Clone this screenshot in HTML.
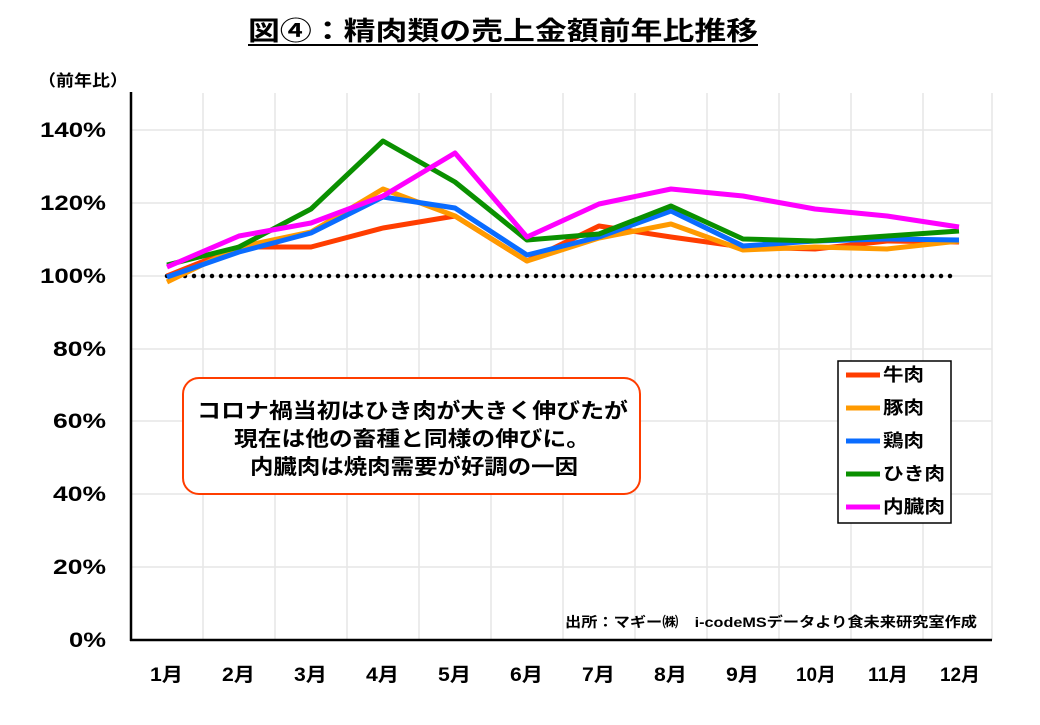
<!DOCTYPE html>
<html><head><meta charset="utf-8"><style>
body{margin:0;background:#fff;width:1040px;height:720px;overflow:hidden}
svg text{font-family:"Liberation Sans","Noto Sans CJK JP",sans-serif;font-weight:bold}
</style></head><body>
<svg width="1040" height="720" xmlns="http://www.w3.org/2000/svg">
<text x="248" y="40" font-size="26" textLength="510" lengthAdjust="spacingAndGlyphs" fill="#000">図④：精肉類の売上金額前年比推移</text>
<line x1="248" y1="45" x2="758" y2="45" stroke="#000" stroke-width="2"/>
<text x="38" y="86" font-size="16" textLength="90" lengthAdjust="spacingAndGlyphs">（前年比）</text>
<g stroke="#e6e6e6" stroke-width="1.5">
<line x1="131" y1="130" x2="992" y2="130"/><line x1="131" y1="203" x2="992" y2="203"/><line x1="131" y1="276" x2="992" y2="276"/><line x1="131" y1="349" x2="992" y2="349"/><line x1="131" y1="421" x2="992" y2="421"/><line x1="131" y1="494" x2="992" y2="494"/><line x1="131" y1="567" x2="992" y2="567"/>
<line x1="203" y1="93" x2="203" y2="640"/><line x1="275" y1="93" x2="275" y2="640"/><line x1="347" y1="93" x2="347" y2="640"/><line x1="419" y1="93" x2="419" y2="640"/><line x1="491" y1="93" x2="491" y2="640"/><line x1="563" y1="93" x2="563" y2="640"/><line x1="635" y1="93" x2="635" y2="640"/><line x1="707" y1="93" x2="707" y2="640"/><line x1="779" y1="93" x2="779" y2="640"/><line x1="851" y1="93" x2="851" y2="640"/><line x1="923" y1="93" x2="923" y2="640"/><line x1="992" y1="93" x2="992" y2="640"/>
</g>
<line x1="131" y1="92" x2="131" y2="641" stroke="#000" stroke-width="2.5"/>
<line x1="130" y1="640" x2="992" y2="640" stroke="#000" stroke-width="2.5"/>
<g font-size="21" fill="#000">
<text x="40" y="137" textLength="66" lengthAdjust="spacingAndGlyphs">140%</text><text x="40" y="210" textLength="66" lengthAdjust="spacingAndGlyphs">120%</text><text x="40" y="283" textLength="66" lengthAdjust="spacingAndGlyphs">100%</text><text x="53" y="356" textLength="53" lengthAdjust="spacingAndGlyphs">80%</text><text x="53" y="428" textLength="53" lengthAdjust="spacingAndGlyphs">60%</text><text x="53" y="501" textLength="53" lengthAdjust="spacingAndGlyphs">40%</text><text x="53" y="574" textLength="53" lengthAdjust="spacingAndGlyphs">20%</text><text x="69" y="647" textLength="37" lengthAdjust="spacingAndGlyphs">0%</text>
</g>
<g font-size="19">
<text x="150" y="681" textLength="33" lengthAdjust="spacingAndGlyphs">1月</text><text x="222" y="681" textLength="33" lengthAdjust="spacingAndGlyphs">2月</text><text x="294" y="681" textLength="33" lengthAdjust="spacingAndGlyphs">3月</text><text x="366" y="681" textLength="33" lengthAdjust="spacingAndGlyphs">4月</text><text x="438" y="681" textLength="33" lengthAdjust="spacingAndGlyphs">5月</text><text x="510" y="681" textLength="33" lengthAdjust="spacingAndGlyphs">6月</text><text x="582" y="681" textLength="33" lengthAdjust="spacingAndGlyphs">7月</text><text x="654" y="681" textLength="33" lengthAdjust="spacingAndGlyphs">8月</text><text x="726" y="681" textLength="33" lengthAdjust="spacingAndGlyphs">9月</text><text x="796" y="681" textLength="40" lengthAdjust="spacingAndGlyphs">10月</text><text x="868" y="681" textLength="40" lengthAdjust="spacingAndGlyphs">11月</text><text x="940" y="681" textLength="40" lengthAdjust="spacingAndGlyphs">12月</text>
</g>
<line x1="167" y1="276" x2="958" y2="276" stroke="#000" stroke-width="4.5" stroke-dasharray="0 9" stroke-linecap="round"/>
<g fill="none" stroke-width="5" stroke-linejoin="round">
<polyline stroke="#ff3d00" points="167,276 239,247 311,247 383,228 455,216 527,261 599,226 671,237 743,247 815,249 887,241 959,242"/>
<polyline stroke="#ff9a00" points="167,282 239,247 311,232 383,189 455,216 527,261 599,238 671,224 743,250 815,247 887,249 959,241"/>
<polyline stroke="#0a6cff" points="167,277 239,252 311,233 383,197 455,208 527,255 599,237 671,211 743,246 815,241 887,239 959,240"/>
<polyline stroke="#0a9000" points="167,265 239,247 311,209 383,141 455,182 527,240 599,234 671,206 743,239 815,241 887,236 959,231"/>
<polyline stroke="#ff00ff" points="167,267 239,236 311,223 383,196 455,153 527,237 599,204 671,189 743,196 815,209 887,216 959,227"/>
</g>
<rect x="838" y="361" width="113" height="162" fill="#fff" stroke="#000" stroke-width="1.5"/>
<g stroke-width="5">
<line x1="846" y1="375" x2="880" y2="375" stroke="#ff3d00"/>
<line x1="846" y1="408" x2="880" y2="408" stroke="#ff9a00"/>
<line x1="846" y1="441" x2="880" y2="441" stroke="#0a6cff"/>
<line x1="846" y1="474" x2="880" y2="474" stroke="#0a9000"/>
<line x1="846" y1="507" x2="880" y2="507" stroke="#ff00ff"/>
</g>
<g font-size="18">
<text x="883" y="381" textLength="41" lengthAdjust="spacingAndGlyphs">牛肉</text><text x="883" y="414" textLength="41" lengthAdjust="spacingAndGlyphs">豚肉</text><text x="883" y="447" textLength="41" lengthAdjust="spacingAndGlyphs">鶏肉</text><text x="883" y="480" textLength="62" lengthAdjust="spacingAndGlyphs">ひき肉</text><text x="883" y="513" textLength="62" lengthAdjust="spacingAndGlyphs">内臓肉</text>
</g>
<rect x="183" y="378" width="457" height="116" rx="16" fill="#fff" stroke="#ff3d00" stroke-width="2"/>
<g font-size="21">
<text x="197" y="418" textLength="431" lengthAdjust="spacingAndGlyphs">コロナ禍当初はひき肉が大きく伸びたが</text>
<text x="234" y="446" textLength="356" lengthAdjust="spacingAndGlyphs">現在は他の畜種と同様の伸びに。</text>
<text x="250" y="474" textLength="328" lengthAdjust="spacingAndGlyphs">内臓肉は焼肉需要が好調の一因</text>
</g>
<text x="565" y="627" font-size="14" textLength="412" lengthAdjust="spacingAndGlyphs">出所：マギー㈱　i-codeMSデータより食未来研究室作成</text>
</svg>
</body></html>
